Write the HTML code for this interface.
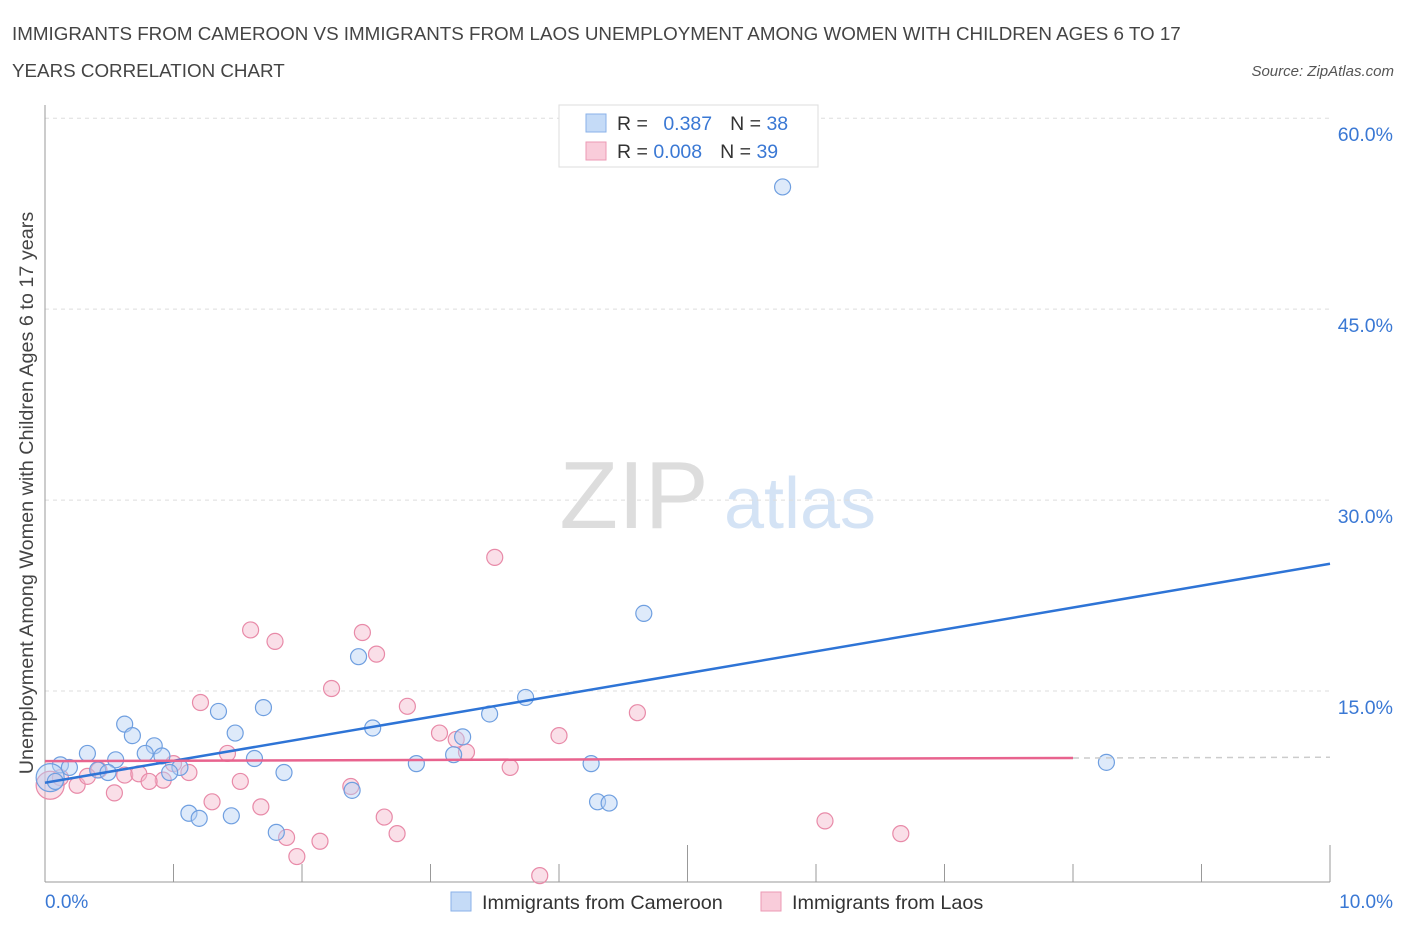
<!DOCTYPE html>
<html><head><meta charset="utf-8"><style>
body{margin:0;background:#fff;font-family:"Liberation Sans",sans-serif;}
svg text{font-family:"Liberation Sans",sans-serif;}
</style></head><body>
<svg width="1406" height="930" viewBox="0 0 1406 930">
<text x="12" y="40" font-size="18.8" fill="#444">IMMIGRANTS FROM CAMEROON VS IMMIGRANTS FROM LAOS UNEMPLOYMENT AMONG WOMEN WITH CHILDREN AGES 6 TO 17</text>
<text x="12" y="77" font-size="18.8" fill="#444">YEARS CORRELATION CHART</text>
<text x="1394" y="76" font-size="15" fill="#555" font-style="italic" text-anchor="end">Source: ZipAtlas.com</text>
<text x="634" y="528" font-size="96" fill="#ddd" text-anchor="middle" font-family="Liberation Serif">ZIP</text>
<text x="800" y="528" font-size="72" fill="#d4e3f5" text-anchor="middle">atlas</text>
<g id="grid"></g>
<g id="axes"></g>
<g id="pts"></g>
<g id="trend"></g>
<text transform="translate(33,493) rotate(-90)" font-size="19.8" fill="#444" text-anchor="middle">Unemployment Among Women with Children Ages 6 to 17 years</text>
<g>
<rect x="559" y="105" width="259" height="62" fill="#fff" stroke="#ddd"/>
<rect x="586" y="114" width="20" height="18" fill="#c5dbf7" stroke="#8ab2e8"/>
<rect x="586" y="142" width="20" height="18" fill="#f9ccda" stroke="#ec9ab4"/>
<text x="617" y="130" font-size="19.5" fill="#333">R = <tspan fill="#3a78d4" dx="10">0.387</tspan><tspan dx="18" fill="#333">N = </tspan><tspan fill="#3a78d4">38</tspan></text>
<text x="617" y="158" font-size="19.5" fill="#333">R = <tspan fill="#3a78d4">0.008</tspan><tspan dx="18" fill="#333">N = </tspan><tspan fill="#3a78d4">39</tspan></text>
</g>
<g>
<rect x="451" y="892" width="20" height="19" fill="#c5dbf7" stroke="#8ab2e8"/>
<text x="482" y="909" font-size="19.8" fill="#333">Immigrants from Cameroon</text>
<rect x="761" y="892" width="20" height="19" fill="#f9ccda" stroke="#ec9ab4"/>
<text x="792" y="909" font-size="19.8" fill="#333">Immigrants from Laos</text>
</g>
</svg>
<script>
const blueX=[5.74,4.66,2.44,3.74,3.46,2.55,1.70,1.35,0.62,0.68,1.48,0.85,0.33,0.55,0.78,0.91,1.05,0.97,1.63,1.86,2.89,3.18,3.25,4.25,4.30,4.39,2.39,8.26,1.12,1.20,1.45,1.80,0.12,0.19,0.41,0.49,0.04,0.08];
const blueY=[54.6,21.1,17.7,14.5,13.2,12.1,13.7,13.4,12.4,11.5,11.7,10.7,10.1,9.6,10.1,9.9,9.0,8.6,9.7,8.6,9.3,10.0,11.4,9.3,6.3,6.2,7.2,9.4,5.4,5.0,5.2,3.9,9.2,9.0,8.8,8.6,8.2,7.9];
const pinkX=[3.50,1.60,1.79,2.47,2.58,2.23,2.82,1.21,4.61,3.07,4.00,3.20,3.28,1.42,3.62,1.12,1.00,0.42,0.62,0.73,0.92,0.81,0.25,0.33,1.52,0.54,2.38,1.30,1.68,2.64,2.74,1.88,2.14,1.96,3.85,6.07,6.66,0.04,0.12];
const pinkY=[25.5,19.8,18.9,19.6,17.9,15.2,13.8,14.1,13.3,11.7,11.5,11.2,10.2,10.1,9.0,8.6,9.3,8.8,8.4,8.5,8.0,7.9,7.6,8.3,7.9,7.0,7.5,6.3,5.9,5.1,3.8,3.5,3.2,2.0,0.5,4.8,3.8,7.6,8.2];
const yTicks=[15,30,45,60];
const yTickLabels=["15.0%","30.0%","45.0%","60.0%"];
const blueTrend=[7.8,1.72];
const pinkTrend=[9.5,0.03];
const NS="http://www.w3.org/2000/svg";
const sx=v=>45+v*128.5, sy=v=>882-v*12.73;
function mk(t,a,p){const e=document.createElementNS(NS,t);for(const k in a)e.setAttribute(k,a[k]);p.appendChild(e);return e;}
const grid=document.getElementById('grid'),axes=document.getElementById('axes'),pts=document.getElementById('pts'),tr=document.getElementById('trend');
yTicks.forEach((t,i)=>{const l=mk('line',{x1:45,x2:1330,y1:sy(t),y2:sy(t),stroke:'#ddd','stroke-dasharray':'4,4'},grid);


const tx=mk('text',{x:1393,y:sy(t)+23,'font-size':19.5,fill:'#3a78d4','text-anchor':'end'},axes);tx.textContent=yTickLabels[i];

});
mk('line',{x1:45,x2:45,y1:105,y2:882,stroke:'#999'},axes);
mk('line',{x1:45,x2:1330,y1:882,y2:882,stroke:'#999'},axes);
for(let i=0;i<=10;i++){const tk=mk('line',{x1:sx(i),x2:sx(i),y1:i==5||i==10?845:864,y2:882,stroke:'#999'},axes);

}
const x0=mk('text',{x:45,y:908,'font-size':19,fill:'#3a78d4'},axes);x0.textContent='0.0%';


const x1=mk('text',{x:1393,y:908,'font-size':19,fill:'#3a78d4','text-anchor':'end'},axes);x1.textContent='10.0%';


function dots(X,Y,f,s,name){X.forEach((x,i)=>{const r=(x<0.06)?14:8;const c=mk('circle',{cx:sx(x),cy:sy(Y[i]),r:r,fill:f,'fill-opacity':0.45,stroke:s,'stroke-width':1.2},pts);

});}
dots(pinkX,pinkY,'#f5b8cb','#e88aa8','point-laos');
dots(blueX,blueY,'#b5d0f3','#6f9fe0','point-cameroon');
const bl=mk('line',{x1:sx(0),y1:sy(blueTrend[0]),x2:sx(10),y2:sy(blueTrend[0]+10*blueTrend[1]),stroke:'#2e74d6','stroke-width':2.5},tr);


const pl=mk('line',{x1:sx(0),y1:sy(pinkTrend[0]),x2:sx(8),y2:sy(pinkTrend[0]+8*pinkTrend[1]),stroke:'#e8638e','stroke-width':2.5},tr);


const pd=mk('line',{x1:sx(8),y1:sy(pinkTrend[0]+8*pinkTrend[1]),x2:sx(10),y2:sy(pinkTrend[0]+10*pinkTrend[1]),stroke:'#ccc','stroke-width':1.5,'stroke-dasharray':'6,5'},tr);


</script>
</body></html>
